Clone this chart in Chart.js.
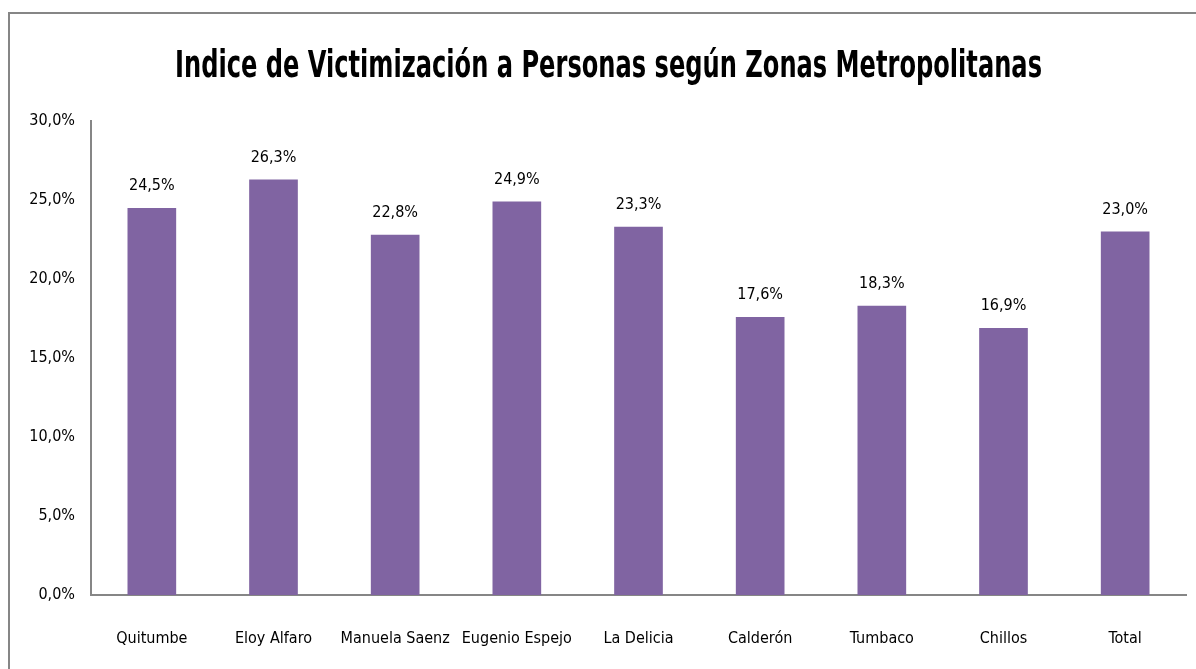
<!DOCTYPE html>
<html>
<head>
<meta charset="utf-8">
<script src="https://cdn.jsdelivr.net/npm/chart.js@4/dist/chart.umd.min.js"></script>
<style>
html,body{margin:0;padding:0;background:#fff;}
#wrap{width:1196px;height:669px;position:relative;}
</style>
</head>
<body>
<div id="wrap"><canvas id="c"></canvas></div>
<script>
const categories = ["Quitumbe","Eloy Alfaro","Manuela Saenz","Eugenio Espejo","La Delicia","Calderón","Tumbaco","Chillos","Total"];
const values = [24.5, 26.3, 22.8, 24.9, 23.3, 17.6, 18.3, 16.9, 23.0];
const yTicks = [0, 5, 10, 15, 20, 25, 30];
const titleText = "Indice de Victimización a Personas según Zonas Metropolitanas";

const FONT = "'DejaVu Sans Condensed', 'Liberation Sans Narrow', sans-serif";
const fmt = v => v.toFixed(1).replace('.', ',') + '%';

const framePlugin = {
  id: 'frame',
  beforeDraw(chart) {
    const ctx = chart.ctx;
    ctx.save();
    ctx.fillStyle = '#fff';
    ctx.fillRect(0, 0, chart.width, chart.height);
    ctx.strokeStyle = '#868686';
    ctx.lineWidth = 2;
    ctx.strokeRect(9, 13, chart.width + 20, chart.height + 20);
    ctx.restore();
  },
  afterDraw(chart) {
    const ctx = chart.ctx;
    ctx.save();
    ctx.font = "bold 37px " + FONT;
    ctx.fillStyle = '#000';
    ctx.textAlign = 'center';
    ctx.textBaseline = 'alphabetic';
    const w = ctx.measureText(titleText).width;
    const sx = 867 / w;
    ctx.translate(608.5, 77);
    ctx.scale(sx, 1);
    ctx.fillText(titleText, 0, 0);
    ctx.restore();
  }
};

const labelPlugin = {
  id: 'valueLabels',
  afterDatasetsDraw(chart) {
    const ctx = chart.ctx;
    const meta = chart.getDatasetMeta(0);
    ctx.save();
    ctx.font = "16px " + FONT;
    ctx.fillStyle = '#000';
    ctx.textAlign = 'center';
    ctx.textBaseline = 'middle';
    meta.data.forEach((bar, i) => {
      ctx.fillText(fmt(values[i]), bar.x, bar.y - 22);
    });
    ctx.restore();
  }
};

new Chart(document.getElementById('c'), {
  type: 'bar',
  data: {
    labels: categories,
    datasets: [{
      data: values,
      backgroundColor: '#8064A2',
      borderWidth: 0,
      categoryPercentage: 1.0,
      barPercentage: 0.4
    }]
  },
  options: {
    responsive: true,
    maintainAspectRatio: false,
    animation: false,
    layout: { padding: { left: 0, right: 10, top: 121, bottom: 0 } },
    plugins: {
      legend: { display: false },
      tooltip: { enabled: false },
      title: { display: false }
    },
    scales: {
      x: {
        grid: { display: false, drawTicks: false },
        border: { display: true, color: '#868686', width: 2 },
        ticks: { color: '#000', font: { family: FONT, size: 16 }, padding: 34, maxRotation: 0, autoSkip: false },
        afterFit(s) { s.height = 74; }
      },
      y: {
        min: 0, max: 30,
        afterBuildTicks(s) { s.ticks = yTicks.map(v => ({ value: v })); },
        grid: { display: false, drawTicks: false },
        border: { display: true, color: '#868686', width: 2 },
        ticks: { color: '#000', font: { family: FONT, size: 16 }, padding: 16, callback: v => fmt(v) },
        afterFit(s) { s.width = 91; }
      }
    }
  },
  plugins: [framePlugin, labelPlugin]
});
</script>
</body>
</html>
